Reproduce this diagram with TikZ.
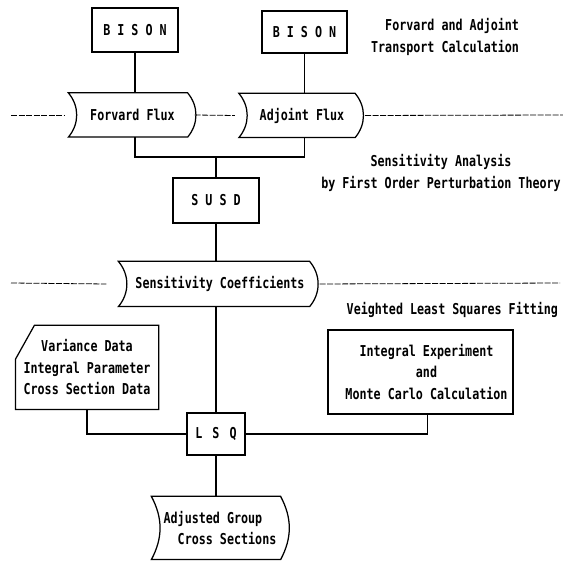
\documentclass[tikz,border=0pt]{standalone}
\usepackage{fontspec}
\newfontfamily\diafont[FakeStretch=0.78]{DejaVu Sans Mono}
\newcommand{\storeoutline}[2][40]{%
  \draw (#2.north west) to[bend left=#1] (#2.south west) -- (#2.south east)
        to[bend right=#1] (#2.north east) -- cycle;}
\begin{document}
\begin{tikzpicture}[x=1pt, y=-1pt, line width=1.25pt,
    every node/.style={font=\diafont\bfseries\fontsize{15}{21.5}\selectfont},
    box/.style={draw, inner sep=0pt},
    store/.style={inner sep=0pt},
    sep/.style={line width=0.8pt, dash pattern=on 6pt off 1.5pt}]
\useasboundingbox (0,0) rectangle (563,561);
% programs
\draw   (135,30) node[box,minimum width=86pt,minimum height=44pt](bison1){B\ I\ S\ O\ N}
        (304.5,32) node[box,minimum width=85pt,minimum height=42pt](bison2){B\ I\ S\ O\ N}
        (216,200.5) node[box,minimum width=86pt,minimum height=45pt](susd){S\ U\ S\ D}
        (216,434) node[box,minimum width=58pt,minimum height=42pt](lsq){L\hspace{10pt}S\hspace{10pt}Q};
% stored data
\path   (128,115) node[store,minimum width=118pt,minimum height=43pt](ff){\hspace*{9pt}Forvard Flux}
        (297,115.5) node[store,minimum width=115pt,minimum height=43pt](af){\hspace*{10pt}Adjoint Flux}
        (214,284) node[store,minimum width=190pt,minimum height=44pt](sc){\hspace*{12pt}Sensitivity Coefficients}
        (216,528) node[store,minimum width=128pt,minimum height=62pt,align=left](adj){\hspace*{8pt}Adjusted Group\\\hspace*{8pt}\phantom{Ad}Cross Sections};
\storeoutline{ff}
\storeoutline{af}
\storeoutline{sc}
\storeoutline[28]{adj}
% input data
\path   (87,367.5) node[store,minimum width=142pt,minimum height=83pt,align=center](var){Variance Data\\Integral Parameter\\Cross Section Data}
        (420.5,372) node[box,minimum width=185pt,minimum height=84pt,align=center](ie){\hspace*{12pt}Integral Experiment\\\hspace*{12pt}and\\\hspace*{12pt}Monte Carlo Calculation};
\draw ([yshift=-34pt]var.north west) -- ([xshift=19pt]var.north west) -- (var.north east)
      -- (var.south east) -- (var.south west) -- cycle;
% stage labels
\path   (523,37) node[anchor=east,align=right](lab1){Forvard and Adjoint\\Transport Calculation}
        (441,173) node[align=center](lab2){Sensitivity Analysis\\by First Order Perturbation Theory}
        (562,310) node[anchor=east](lab3){Veighted Least Squares Fitting};
% connections
\coordinate (join) at (216,157);
\draw (bison1.south) -- (bison1.south |- ff.north);
\draw (bison2.south) -- (bison2.south |- af.north);
\draw (bison1.south |- ff.south) |- (join) -| (bison2.south |- af.south);
\draw (join) -- (susd.north);
\draw (susd.south) -- (susd.south |- sc.north);
\draw (susd.south |- sc.south) -- (lsq.north);
\draw (var.south) |- (lsq.west);
\draw ([xshift=7pt]ie.south) |- (lsq.east);
\draw (lsq.south) -- (lsq.south |- adj.north);
% stage separators
\coordinate (d1) at (11,115);
\coordinate (d2) at (563,115);
\coordinate (d3) at (11,283);
\coordinate (d4) at (560,283);
\draw[sep] (d1) -- ([xshift=-4pt]ff.west);
\draw[sep] ([xshift=7pt]ff.east) -- ([xshift=-4pt]af.west);
\draw[sep] ([xshift=10pt]af.east) -- (d2);
\draw[sep] (d3) -- ([xshift=-12pt]sc.west);
\draw[sep] ([xshift=10pt]sc.east) -- (d4);
\end{tikzpicture}
\end{document}
